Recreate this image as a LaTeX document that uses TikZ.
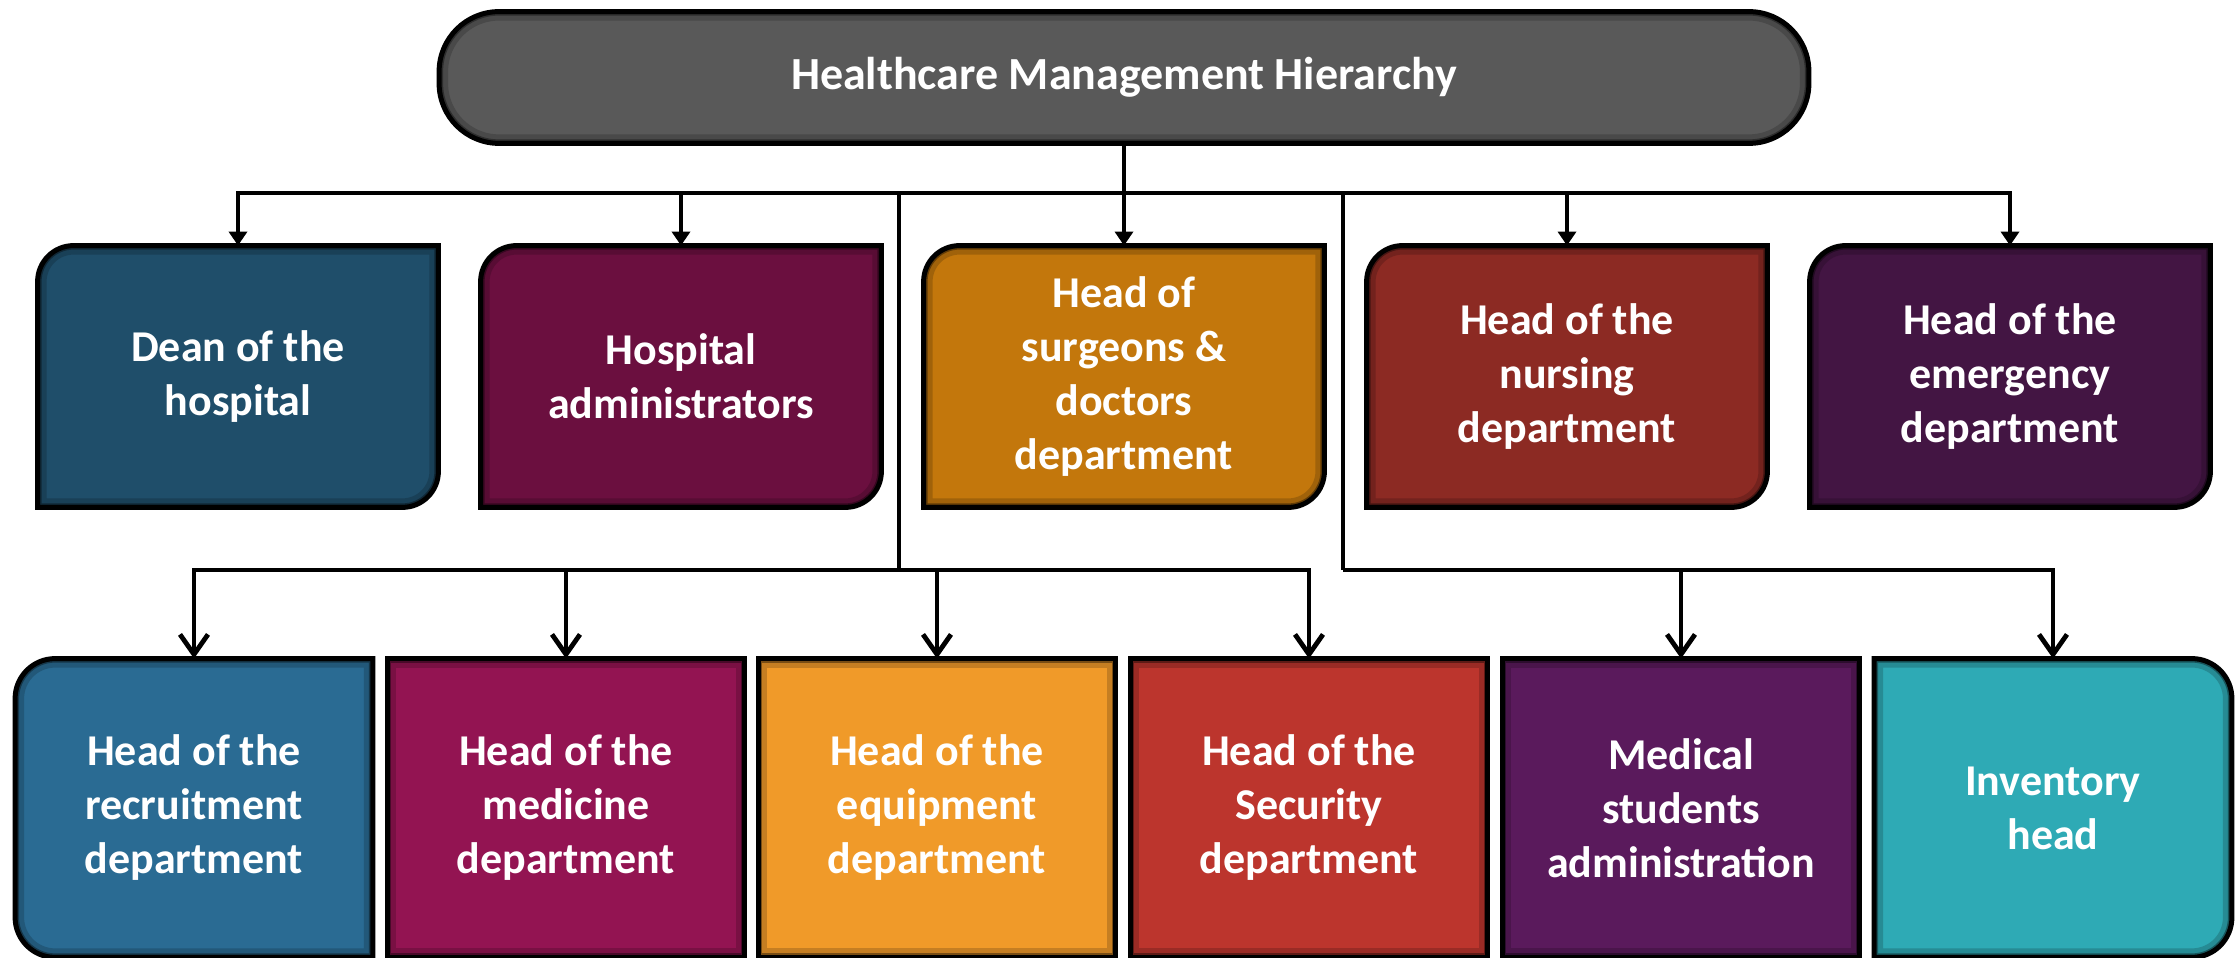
\documentclass[tikz,border=0pt]{standalone}
\usepackage{fontspec}
\setmainfont{Carlito}
\usetikzlibrary{arrows.meta,calc}
\pgfdeclarelayer{background}
\pgfsetlayers{background,main}
\definecolor{cTitle}{HTML}{595959}
\definecolor{cDean}{HTML}{1F4E6A}
\definecolor{cAdmin}{HTML}{6B0F3F}
\definecolor{cSurg}{HTML}{C3770C}
\definecolor{cNurse}{HTML}{8C2A23}
\definecolor{cEmerg}{HTML}{431543}
\definecolor{cRecr}{HTML}{2A6B93}
\definecolor{cMed}{HTML}{931452}
\definecolor{cEquip}{HTML}{F09A29}
\definecolor{cSec}{HTML}{BC352D}
\definecolor{cStud}{HTML}{5A1A5C}
\definecolor{cInv}{HTML}{2EAAB5}
\newcommand\ppath[5]{([yshift=#5]#1.south west) -- ([yshift=-#2]#1.north west) \ifdim#2>0pt arc[start angle=180,end angle=90,radius=#2] \fi -- ([xshift=-#3]#1.north east) \ifdim#3>0pt arc[start angle=90,end angle=0,radius=#3] \fi -- ([yshift=#4]#1.south east) \ifdim#4>0pt arc[start angle=0,end angle=-90,radius=#4] \fi -- ([xshift=#5]#1.south west) \ifdim#5>0pt arc[start angle=270,end angle=180,radius=#5] \fi -- cycle}
\newcommand\panel[6]{%
\begin{pgfonlayer}{background}
\fill[#2] \ppath{#1}{#3}{#4}{#5}{#6};
\begin{scope}
\clip \ppath{#1}{#3}{#4}{#5}{#6};
\draw[#2!82!black, line width=9pt, line join=miter] \ppath{#1}{#3}{#4}{#5}{#6};
\draw[#2!50!black, line width=4pt, line join=miter] \ppath{#1}{#3}{#4}{#5}{#6};
\end{scope}
\draw[black, line width=2.5pt, line join=miter] \ppath{#1}{#3}{#4}{#5}{#6};
\end{pgfonlayer}}
\tikzset{
  boxtext/.style={inner sep=0pt, align=center, text=white, font=\bfseries\fontsize{22}{27}\selectfont},
  titlebox/.style={inner sep=0pt, align=center, text=white, font=\bfseries\fontsize{23}{28}\selectfont, minimum width=684.5pt, minimum height=65.5pt},
  rowone/.style={boxtext, minimum width=200pt, minimum height=130.5pt},
  rowtwo/.style={boxtext, minimum width=178.5pt, minimum height=149pt},
  link/.style={line width=2.2pt, draw=black},
  arrone/.style={link, -{Triangle[width=9pt,length=7pt]}},
  arrtwo/.style={link, -{Straight Barb[width=14pt,length=10pt,line width=2.4pt]}},
}
\begin{document}
\begin{tikzpicture}[x=0.5pt,y=0.5pt]
\useasboundingbox (0,0) rectangle (2238,958);
\node[titlebox] (title) at (1124,880.5) {Healthcare Management Hierarchy};
\node[rowone] (r1a) at (238,581.5) {Dean of the\\hospital};
\node[rowone] (r1b) at (681,581.5) {Hospital\\administrators};
\node[rowone] (r1c) at (1124,581.5) {Head of\\surgeons \&\\doctors\\department};
\node[rowone] (r1d) at (1567,581.5) {Head of the\\nursing\\department};
\node[rowone] (r1e) at (2010,581.5) {Head of the\\emergency\\department};
\node[rowtwo] (r2a) at (194,150) {Head of the\\recruitment\\department};
\node[rowtwo] (r2b) at (566,150) {Head of the\\medicine\\department};
\node[rowtwo] (r2c) at (937,150) {Head of the\\equipment\\department};
\node[rowtwo] (r2d) at (1309,150) {Head of the\\Security\\department};
\node[rowtwo] (r2e) at (1681,150) {Medical\\students\\administration};
\node[rowtwo] (r2f) at (2053,150) {Inventory\\head};
\coordinate (busy) at (0,765);
\coordinate (d1) at (899,388);
\coordinate (d2) at (1343,388);
\panel{title}{cTitle}{30pt}{30pt}{30pt}{30pt}
\panel{r1a}{cDean}{18pt}{0pt}{18pt}{0pt}
\panel{r1b}{cAdmin}{18pt}{0pt}{18pt}{0pt}
\panel{r1c}{cSurg}{18pt}{0pt}{18pt}{0pt}
\panel{r1d}{cNurse}{18pt}{0pt}{18pt}{0pt}
\panel{r1e}{cEmerg}{18pt}{0pt}{18pt}{0pt}
\panel{r2a}{cRecr}{20pt}{0pt}{0pt}{20pt}
\panel{r2b}{cMed}{0pt}{0pt}{0pt}{0pt}
\panel{r2c}{cEquip}{0pt}{0pt}{0pt}{0pt}
\panel{r2d}{cSec}{0pt}{0pt}{0pt}{0pt}
\panel{r2e}{cStud}{0pt}{0pt}{0pt}{0pt}
\panel{r2f}{cInv}{0pt}{20pt}{20pt}{0pt}
\foreach \n in {r1a,r1b,r1c,r1d,r1e}
  \draw[arrone] (title.south) -- (title.south |- busy) -| (\n.north);
\draw[link] (title.south) -- (title.south |- busy) -| (d1);
\draw[link] (title.south) -- (title.south |- busy) -| (d2);
\foreach \n in {r2a,r2b,r2c,r2d}
  \draw[arrtwo] (d1) -| (\n.north);
\foreach \n in {r2e,r2f}
  \draw[arrtwo] (d2) -| (\n.north);
\end{tikzpicture}
\end{document}
